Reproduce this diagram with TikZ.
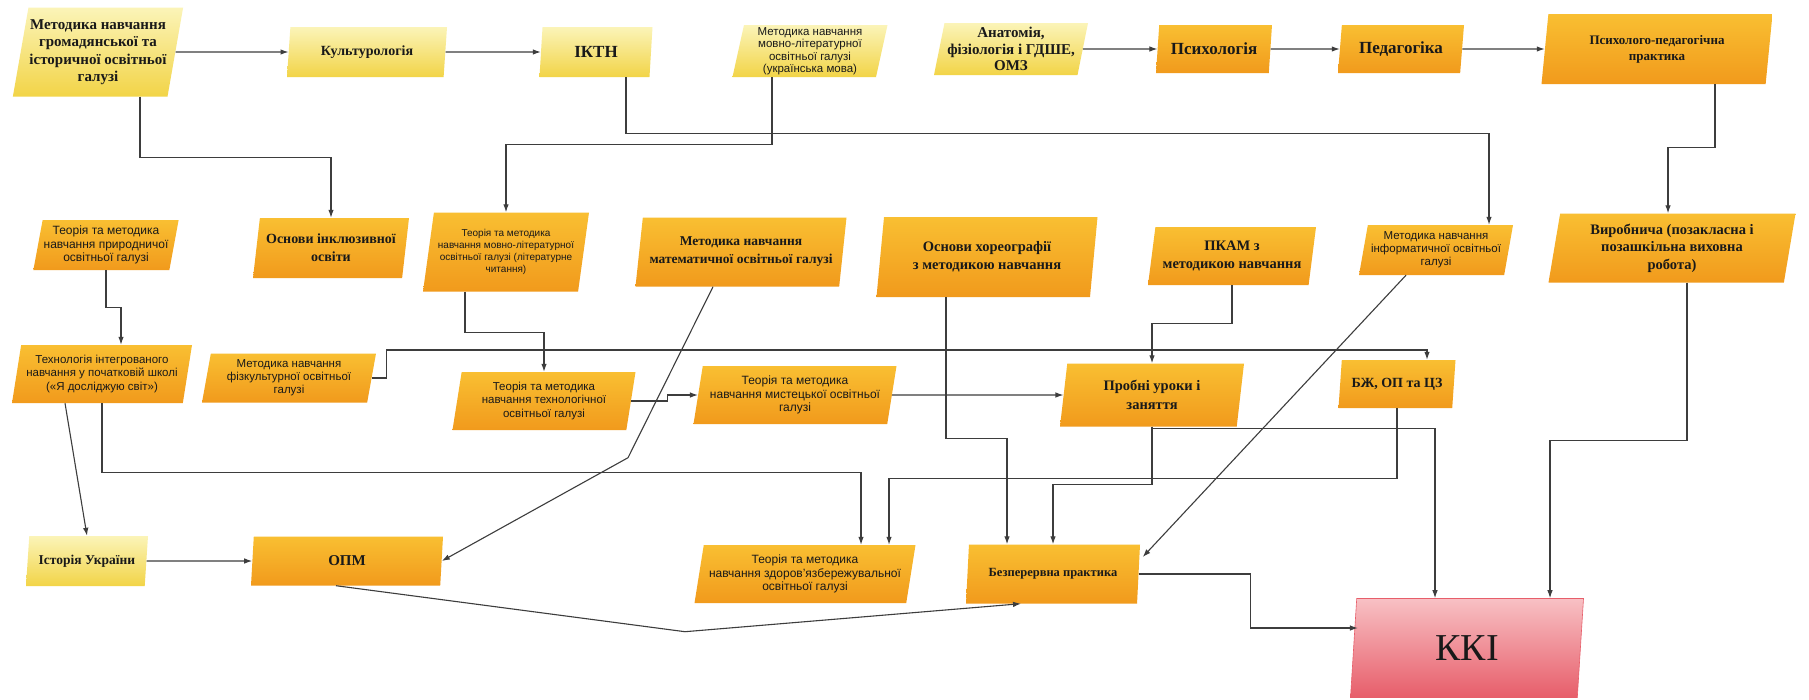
\documentclass[tikz,border=0pt]{standalone}
\usepackage{fontspec}
\setmainfont{Liberation Serif}
\newfontfamily\sansfam{Liberation Sans}
\usetikzlibrary{shapes.geometric,arrows.meta}

\definecolor{paleTop}{HTML}{FBF4B8}
\definecolor{paleBot}{HTML}{F2D447}
\definecolor{orangeTop}{HTML}{F9BF32}
\definecolor{orangeBot}{HTML}{F19A1C}
\definecolor{pinkTop}{HTML}{F8C0C4}
\definecolor{pinkBot}{HTML}{E75E6A}
\definecolor{wireCol}{HTML}{3D3D3D}

\tikzset{
  para/.style={trapezium, trapezium left angle=77, trapezium right angle=103,
    trapezium stretches body, inner sep=1pt, align=center, text=black!90},
  pale/.style={para, top color=paleTop, bottom color=paleBot},
  orangebox/.style={para, top color=orangeTop, bottom color=orangeBot},
  pinkbox/.style={para, top color=pinkTop, bottom color=pinkBot, draw=pinkBot, line width=0.6pt},
  dims/.style 2 args={minimum width=#1pt, minimum height=#2pt},
  serif/.style 2 args={font=\fontsize{#1}{#2}\selectfont\bfseries},
  sans/.style 2 args={font=\fontsize{#1}{#2}\selectfont\sansfam},
  link/.style={draw=wireCol, line width=1.1pt, -{Latex[length=8pt,width=5.5pt]}},
}

\begin{document}
\begin{tikzpicture}[x=1pt,y=-1pt]
  \fill[white] (0,0) rectangle (1809,699);
  \useasboundingbox (0,0) rectangle (1809,699);

  % nodes, top row
  \node[pale, serif={15}{17.5}, dims={168}{89}] (mGrom) at (98,52) {Методика навчання\\громадянської та\\історичної освітньої\\галузі};
  \node[pale, serif={14}{16}, dims={160}{50}] (kult) at (367,52) {Культурологія};
  \node[pale, serif={17}{19}, dims={113}{50}] (iktn) at (596,52) {ІКТН};
  \node[pale, sans={11.5}{12.5}, dims={155}{52}] (mMova) at (810,51) {Методика навчання\\мовно-літературної\\освітньої галузі\\(українська мова)};
  \node[pale, serif={15}{16.5}, dims={154}{52}] (anat) at (1011,49) {Анатомія,\\фізіологія і ГДШЕ,\\ОМЗ};
  \node[orangebox, serif={17}{19}, dims={116}{48}] (psych) at (1214,49) {Психологія};
  \node[orangebox, serif={17}{19}, dims={126}{48}] (ped) at (1401,49) {Педагогіка};
  \node[orangebox, serif={13}{16}, dims={231}{70}] (ppPrakt) at (1657,49) {Психолого-педагогічна\\практика};

  % second row
  \node[orangebox, sans={12}{13.5}, dims={144}{50}] (tmPryr) at (106,245) {Теорія та методика\\навчання природничої\\освітньої галузі};
  \node[orangebox, serif={14}{18}, dims={156}{60}] (osnIncl) at (331,248) {Основи інклюзивної\\освіти};
  \node[orangebox, sans={10}{12}, dims={166}{79}] (tmLit) at (506,252) {Теорія та методика\\навчання мовно-літературної\\освітньої галузі (літературне\\читання)};
  \node[orangebox, serif={13.5}{18}, dims={211}{69}] (mMat) at (741,252) {Методика навчання\\математичної освітньої галузі};
  \node[orangebox, serif={14.5}{18}, dims={221}{80}] (osnHoreo) at (987,257) {Основи хореографії\\з методикою навчання};
  \node[orangebox, serif={14.5}{18}, dims={168}{58}] (pkam) at (1232,256) {ПКАМ з\\методикою навчання};
  \node[orangebox, sans={11.5}{13}, dims={154}{50}] (mInf) at (1436,250) {Методика навчання\\інформатичної освітньої\\галузі};
  \node[orangebox, serif={14.5}{17.5}, dims={247}{69}] (vyrob) at (1672,248) {Виробнича (позакласна і\\позашкільна виховна\\робота)};

  % third row
  \node[orangebox, sans={11.5}{13.5}, dims={180}{58}] (techInt) at (102,374) {Технологія інтегрованого\\навчання у початковій школі\\(«Я досліджую світ»)};
  \node[orangebox, sans={11.5}{13}, dims={174}{49}] (mFiz) at (289,378) {Методика навчання\\фізкультурної освітньої\\галузі};
  \node[orangebox, sans={11.5}{13.5}, dims={183}{58}] (tmTech) at (544,401) {Теорія та методика\\навчання технологічної\\освітньої галузі};
  \node[orangebox, sans={12}{13.5}, dims={203}{58}] (tmMyst) at (795,395) {Теорія та методика\\навчання мистецької освітньої\\галузі};
  \node[orangebox, serif={14.5}{19}, dims={184}{63}] (probni) at (1152,395) {Пробні уроки і\\заняття};
  \node[orangebox, serif={14}{17}, dims={117}{48}] (bzh) at (1397,384) {БЖ, ОП та ЦЗ};

  % bottom row
  \node[pale, serif={13.5}{16}, dims={122}{50}] (istUkr) at (87,561) {Історія України};
  \node[orangebox, serif={15}{17}, dims={192}{49}] (opm) at (347,561) {ОПМ};
  \node[orangebox, sans={12}{13.5}, dims={221}{58}] (tmZdor) at (805,574) {Теорія та методика\\навчання здоров’язбережувальної\\освітньої галузі};
  \node[orangebox, serif={12.5}{15}, dims={174}{59}] (bezp) at (1053,574) {Безперервна практика};
  \node[pinkbox, font=\fontsize{38}{40}\selectfont, dims={233}{99}] (kki) at (1467,648) {ККІ};

  % edges, top row
  \draw[link] (mGrom.east) -- (kult.west);
  \draw[link] (kult.east) -- (iktn.west);
  \draw[link] (anat.east) -- (psych.west);
  \draw[link] (psych.east) -- (ped.west);
  \draw[link] (ped.east) -- (ppPrakt.west);
  \draw[link] ([xshift=42pt]mGrom.south) -- ++(0,61) -| (osnIncl.north);
  \draw[link] ([xshift=30pt]iktn.south) -- ++(0,56) -| ([xshift=53pt]mInf.north);
  \draw[link] ([xshift=-38pt]mMova.south) -- ++(0,67) -| (tmLit.north);
  \draw[link] ([xshift=58pt]ppPrakt.south) -- ++(0,63) -| ([xshift=-4pt]vyrob.north);

  % edges, second row
  \draw[link] (tmPryr.south) -- ++(0,37) -| ([xshift=19pt]techInt.north);
  \draw[link] ([xshift=-41pt]tmLit.south) -- ++(0,41) -| (tmTech.north);
  \draw[link] ([xshift=-28pt]mMat.south) -- ++(-85,171) -- (opm.east);
  \draw[link] ([xshift=-41pt]osnHoreo.south) -- ++(0,141) -| ([xshift=-46pt]bezp.north);
  \draw[link] (pkam.south) -- ++(0,38) -| (probni.north);
  \draw[link] ([xshift=-30pt]mInf.south) -- ([xshift=4pt,yshift=17pt]bezp.east);
  \draw[link] ([xshift=15pt]vyrob.south) -- ++(0,158) -| ([xshift=83pt]kki.north);

  % edges, third row
  \draw[link] (mFiz.east) -- ++(15,0) -- ++(0,-28) -| ([xshift=30pt]bzh.north);
  \draw[link] (tmTech.east) -- ++(36,0) |- (tmMyst.west);
  \draw[link] (tmMyst.east) -- (probni.west);
  \draw[link] ([xshift=-37pt]techInt.south) -- (istUkr.north);
  \draw[link] (techInt.south) -- ++(0,69) -| ([xshift=56pt]tmZdor.north);
  \draw[link] (bzh.south) -- ++(0,70) -| ([xshift=84pt]tmZdor.north);
  \draw[link] (probni.south) -- ++(0,58) -| (bezp.north);
  \draw[link] (probni.south) -- ++(0,2) -| ([xshift=-32pt]kki.north);

  % edges, bottom row
  \draw[link] (istUkr.east) -- (opm.west);
  \draw[link] ([xshift=-11pt]opm.south) -- ++(349,46) -- ([xshift=-32pt]bezp.south);
  \draw[link] (bezp.east) -- ++(112,0) |- ([xshift=4.6pt,yshift=20pt]kki.west);
\end{tikzpicture}
\end{document}
